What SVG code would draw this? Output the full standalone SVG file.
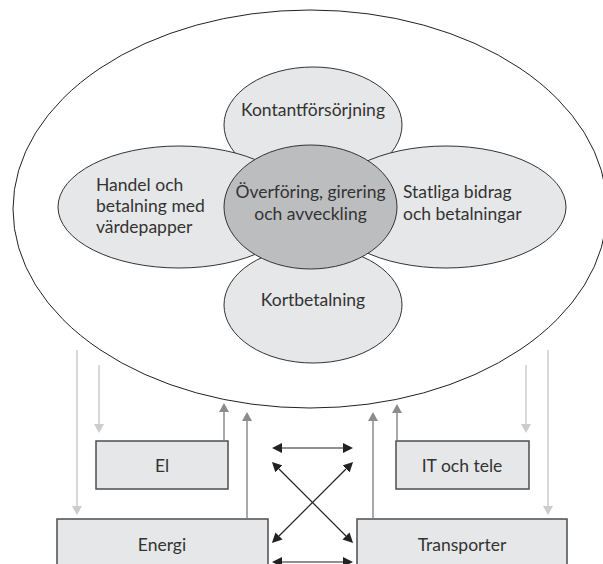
<svg xmlns="http://www.w3.org/2000/svg" width="603" height="564" viewBox="0 0 603 564">
<style>
.outer{fill:#fff;stroke:#222;stroke-width:1}
.pet{fill:#e6e7e8;stroke:#333;stroke-width:1}
.core{fill:#bcbdbf;stroke:#333;stroke-width:1}
.box{fill:#e6e7e8;stroke:#4d4d4d;stroke-width:1.5}
text{font-family:Lato,"Open Sans","Liberation Sans",sans-serif;font-size:17.5px;fill:#333}
.c{text-anchor:middle}
.down{stroke:#cccccc;stroke-width:1.5;fill:none;marker-end:url(#hl)}
.up{stroke:#8c8c8c;stroke-width:1.5;fill:none;marker-end:url(#hd)}
.bi{stroke:#222;stroke-width:1.2;fill:none;marker-start:url(#hb);marker-end:url(#hb)}
</style>
<defs>
<marker id="hl" markerUnits="userSpaceOnUse" markerWidth="9" markerHeight="10" refX="0" refY="5" orient="auto" viewBox="0 0 9 10"><path d="M0,0 L9,5 L0,10 z" fill="#cccccc"/></marker>
<marker id="hd" markerUnits="userSpaceOnUse" markerWidth="9" markerHeight="10" refX="0" refY="5" orient="auto" viewBox="0 0 9 10"><path d="M0,0 L9,5 L0,10 z" fill="#8c8c8c"/></marker>
<marker id="hb" markerUnits="userSpaceOnUse" markerWidth="10" markerHeight="10" refX="0" refY="5" orient="auto-start-reverse" viewBox="0 0 10 10"><path d="M0,0 L10,5 L0,10 z" fill="#222"/></marker>
</defs>
<g id="system">
<ellipse class="outer" cx="310" cy="209" rx="297" ry="199"/>
</g>
<g id="kontant">
<ellipse class="pet" cx="313" cy="125" rx="89" ry="58"/>
<text class="c" x="313" y="116">Kontantförsörjning</text>
</g>
<g id="kort">
<ellipse class="pet" cx="313" cy="305" rx="89" ry="58"/>
<text class="c" x="313" y="306">Kortbetalning</text>
</g>
<g id="handel">
<ellipse class="pet" cx="179" cy="207" rx="121" ry="61"/>
<text x="96" y="191">Handel och</text>
<text x="96" y="212">betalning med</text>
<text x="96" y="233">värdepapper</text>
</g>
<g id="statliga">
<ellipse class="pet" cx="446" cy="207" rx="120" ry="61"/>
<text x="403" y="198">Statliga bidrag</text>
<text x="403" y="220">och betalningar</text>
</g>
<g id="overforing">
<ellipse class="core" cx="310.5" cy="207" rx="86.5" ry="62"/>
<text class="c" x="310.5" y="198">Överföring, girering</text>
<text class="c" x="310.5" y="220">och avveckling</text>
</g>
<g id="el">
<rect class="box" x="96" y="441" width="132" height="48"/>
<text class="c" x="162" y="472">El</text>
</g>
<g id="it">
<rect class="box" x="396" y="441" width="133" height="48"/>
<text class="c" x="462" y="472">IT och tele</text>
</g>
<g id="energi">
<rect class="box" x="57" y="519" width="211" height="60"/>
<text class="c" x="162" y="551">Energi</text>
</g>
<g id="transporter">
<rect class="box" x="357" y="519" width="210" height="60"/>
<text class="c" x="462" y="551">Transporter</text>
</g>
<g id="connectors">
<line class="down" x1="99" y1="365" x2="99" y2="424"/>
<line class="down" x1="77" y1="350" x2="77" y2="506"/>
<line class="down" x1="526" y1="365" x2="526" y2="424"/>
<line class="down" x1="548" y1="350" x2="548" y2="506"/>
<line class="up" x1="224" y1="440" x2="224" y2="412"/>
<line class="up" x1="247" y1="518" x2="247" y2="421"/>
<line class="up" x1="373" y1="518" x2="373" y2="421"/>
<line class="up" x1="397" y1="440" x2="397" y2="413"/>
<line class="bi" x1="282" y1="448" x2="343" y2="448"/>
<line class="bi" x1="279" y1="469" x2="346" y2="536"/>
<line class="bi" x1="346" y1="469" x2="279" y2="536"/>
<line class="bi" x1="282" y1="562" x2="343" y2="562"/>
</g>
</svg>
